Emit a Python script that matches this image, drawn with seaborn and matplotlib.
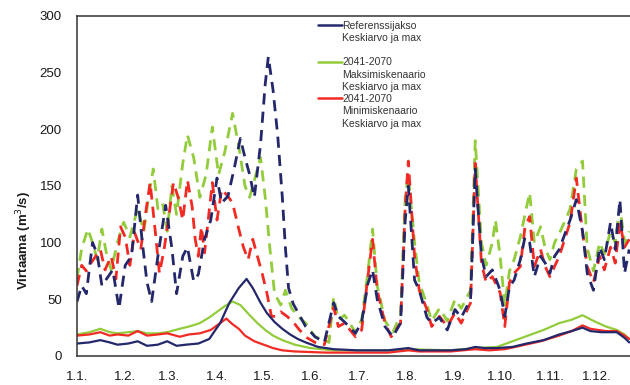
import pandas as pd
import seaborn as sns
import matplotlib.pyplot as plt
from matplotlib.lines import Line2D

# Day of year (0 = 1.1.) and flow values (m3/s)
ref_max_day = [0, 3, 6, 10, 13, 16, 19, 23, 27, 31, 35, 39, 42, 45, 48, 52, 57, 61, 64, 68, 71, 75, 78, 82,
               86, 90, 93, 97, 101, 105, 108, 111, 114, 118, 121, 123, 126, 129, 132, 134, 136, 139, 143, 147,
               153, 159, 165, 168, 172, 179, 183, 187, 190, 193, 198, 203, 208, 211, 213, 217, 220, 225, 228,
               233, 238, 243, 247, 253, 256, 260, 263, 267, 272, 275, 278, 281, 285, 288, 291, 294, 298, 301,
               304, 307, 310, 314, 317, 321, 325, 328, 332, 336, 339, 343, 346, 349, 352, 355]
ref_max = [48, 62, 55, 100, 90, 62, 68, 76, 42, 80, 88, 142, 100, 65, 48, 88, 133, 95, 55, 88, 96, 66, 72, 103,
           120, 157, 135, 141, 165, 192, 175, 160, 140, 187, 240, 264, 235, 195, 140, 95, 60, 46, 36, 26,
           17, 12, 47, 35, 30, 20, 30, 64, 76, 50, 26, 17, 29, 120, 150, 67, 58, 34, 29,
           34, 23, 41, 34, 50, 165, 88, 70, 76, 58, 35, 61, 67, 85, 105, 100, 70, 88, 82,
           73, 88, 94, 109, 120, 138, 110, 73, 58, 96, 85, 118, 94, 138, 73, 94]

maxs_max_day = [0, 3, 7, 10, 13, 16, 19, 22, 26, 30, 34, 39, 43, 46, 49, 52, 55, 58, 61, 64, 68, 71, 75, 79,
                83, 87, 91, 95, 100, 104, 108, 111, 115, 118, 121, 124, 127, 131, 134, 138, 142, 147, 153, 159,
                162, 165, 168, 172, 179, 183, 187, 190, 193, 198, 203, 208, 211, 213, 217, 220, 225, 228, 233,
                238, 243, 247, 253, 256, 260, 263, 267, 269, 272, 275, 278, 281, 285, 288, 291, 294, 298, 301,
                304, 307, 310, 314, 317, 321, 325, 328, 332, 336, 339, 343, 346, 349, 352, 355]
maxs_max = [68, 95, 112, 100, 85, 112, 90, 76, 100, 118, 105, 130, 110, 140, 165, 130, 135, 110, 150, 125, 170,
            195, 175, 140, 160, 202, 160, 180, 214, 185, 150, 140, 160, 175, 140, 95, 55, 45, 58, 42, 35, 29,
            17, 14, 12, 52, 32, 36, 21, 32, 74, 112, 62, 31, 21, 36, 140, 160, 100, 65, 45, 31, 42,
            31, 50, 42, 58, 190, 100, 80, 100, 120, 88, 45, 75, 85, 105, 125, 144, 100, 114, 95,
            85, 100, 108, 120, 130, 165, 172, 95, 75, 100, 90, 110, 100, 132, 100, 110]

mins_max_day = [0, 3, 6, 9, 12, 15, 18, 22, 25, 28, 31, 34, 37, 41, 44, 47, 50, 53, 56, 59, 62, 65, 68, 71, 74,
                76, 78, 80, 82, 87, 90, 93, 97, 100, 104, 107, 110, 113, 116, 119, 122, 125, 128, 131, 135,
                139, 143, 148, 153, 159, 165, 168, 172, 179, 183, 187, 190, 193, 198, 202, 208, 211, 213, 217,
                220, 225, 228, 233, 238, 243, 247, 253, 256, 260, 263, 267, 272, 275, 278, 281, 285, 288, 291,
                294, 298, 301, 304, 307, 310, 314, 317, 321, 325, 328, 332, 336, 339, 343, 346, 349, 352, 355]
mins_max = [62, 80, 75, 82, 88, 94, 76, 88, 68, 114, 105, 80, 109, 94, 125, 153, 114, 73, 94, 123, 153, 140,
            120, 155, 132, 103, 88, 114, 91, 153, 120, 147, 141, 135, 112, 96, 85, 103, 88, 73, 56, 35, 35, 39,
            35, 30, 23, 16, 12, 10, 43, 26, 29, 17, 23, 70, 103, 58, 29, 17, 29, 132, 172, 88,
            58, 41, 26, 35, 26, 38, 29, 47, 170, 82, 65, 70, 56, 26, 65, 73, 79, 114, 123,
            79, 94, 79, 70, 79, 88, 105, 118, 157, 109, 79, 65, 88, 76, 96, 82, 118, 96, 103]

ref_mean_day = [0, 8, 15, 21, 26, 33, 39, 45, 52, 58, 64, 70, 78, 85, 92, 98, 104, 109, 113, 118, 122, 127,
                132, 137, 142, 147, 155, 165, 180, 200, 213, 220, 240, 250, 256, 262, 270, 280, 289, 300,
                310, 318, 325, 330, 337, 347, 352, 355]
ref_mean = [11, 12, 14, 12, 10, 11, 13, 9, 10, 13, 9, 10, 11, 15, 29, 47, 60, 68, 60, 47, 38, 30,
            24, 19, 15, 12, 8, 6, 5, 5, 7, 5, 5, 6, 8, 7, 7, 8, 11, 14,
            19, 22, 25, 22, 21, 21, 16, 12]

maxs_mean_day = [0, 8, 15, 21, 26, 33, 39, 45, 52, 58, 66, 72, 79, 85, 90, 95, 100, 105, 111, 116, 121, 126,
                 132, 140, 150, 165, 180, 200, 213, 240, 256, 270, 280, 290, 300, 310, 318, 325, 332, 340,
                 347, 352, 355]
maxs_mean = [19, 21, 24, 21, 20, 21, 22, 20, 20, 21, 24, 26, 29, 34, 39, 44, 48, 45, 36, 29, 23, 18,
             14, 10, 7, 5, 5, 5, 6, 5, 7, 8, 13, 18, 23, 29, 32, 36, 31, 26,
             23, 19, 15]

mins_mean_day = [0, 8, 15, 21, 26, 33, 39, 45, 52, 58, 66, 72, 79, 86, 92, 96, 100, 104, 108, 114, 120, 126,
                 132, 140, 160, 180, 200, 213, 220, 240, 256, 265, 275, 285, 298, 310, 318, 325, 330, 340,
                 347, 352, 355]
mins_mean = [18, 19, 21, 18, 19, 18, 22, 18, 19, 20, 17, 19, 20, 23, 29, 33, 28, 24, 18, 13, 10, 7,
             5, 4, 3, 3, 3, 5, 4, 4, 6, 5, 6, 9, 13, 18, 22, 27, 24, 22,
             22, 18, 15]

month_days = [0, 31, 59, 90, 120, 151, 181, 212, 243, 273, 304, 334]
month_labels = ['1.1.', '1.2.', '1.3.', '1.4.', '1.5.', '1.6.', '1.7.', '1.8.', '1.9.', '1.10.', '1.11.', '1.12.']

legend_labels = ['Referenssijakso', 'Keskiarvo ja max', '',
                 '2041-2070', 'Maksimiskenaario', 'Keskiarvo ja max',
                 '2041-2070', 'Minimiskenaario', 'Keskiarvo ja max']

navy = '#24286b'
green = '#92cc3a'
red = '#f22a24'

sns.set_style('white')
plt.rcParams['font.family'] = ['Liberation Sans', 'DejaVu Sans']

fig = plt.figure(figsize=(6.3, 3.85), dpi=100)
ax = fig.add_axes([77 / 630, 29 / 385, 553 / 630, 340 / 385])

dash = (4, 2.6)
series = [
    (maxs_max_day, maxs_max, green, True),
    (mins_max_day, mins_max, red, True),
    (ref_max_day, ref_max, navy, True),
    (maxs_mean_day, maxs_mean, green, False),
    (mins_mean_day, mins_mean, red, False),
    (ref_mean_day, ref_mean, navy, False),
]
for days, vals, col, is_max in series:
    df = pd.DataFrame({'day': days, 'flow': vals})
    if is_max:
        sns.lineplot(data=df, x='day', y='flow', color=col, lw=2.0, ax=ax, dashes=False,
                     linestyle=(0, dash))
    else:
        sns.lineplot(data=df, x='day', y='flow', color=col, lw=1.6, ax=ax)

ax.set_xlim(0, 355.5)
ax.set_ylim(0, 300)
ax.set_yticks(range(0, 301, 50))
ax.set_xticks(month_days)
ax.set_xticklabels(month_labels)
ax.tick_params(axis='both', length=0, labelsize=9.5, colors='#1a1a1a')
ax.tick_params(axis='x', pad=11)
ax.tick_params(axis='y', pad=11)
ax.set_xlabel('')
ax.set_ylabel('Virtaama (m$^3$/s)', fontsize=9.5, fontweight='bold', color='#1a1a1a')
ax.yaxis.set_label_coords(-0.077, 0.34)

for side in ['left', 'bottom', 'top']:
    ax.spines[side].set_color('#333333')
    ax.spines[side].set_linewidth(1.1)
ax.spines['right'].set_visible(False)

blank = Line2D([], [], color='none')
handles = [Line2D([], [], color=navy, lw=1.8), blank, blank,
           Line2D([], [], color=green, lw=1.8), blank, blank,
           Line2D([], [], color=red, lw=1.8), blank, blank]
leg = ax.legend(handles, legend_labels, loc='upper left', bbox_to_anchor=(241 / 553, 0.985),
                frameon=False, fontsize=7.5, handlelength=2.3, handletextpad=0.05,
                labelspacing=0.22, borderpad=0, borderaxespad=0)
for t in leg.get_texts():
    t.set_color('#333333')
leg.get_texts()[2].set_fontsize(5)

fig.savefig('out.png', dpi=100)
